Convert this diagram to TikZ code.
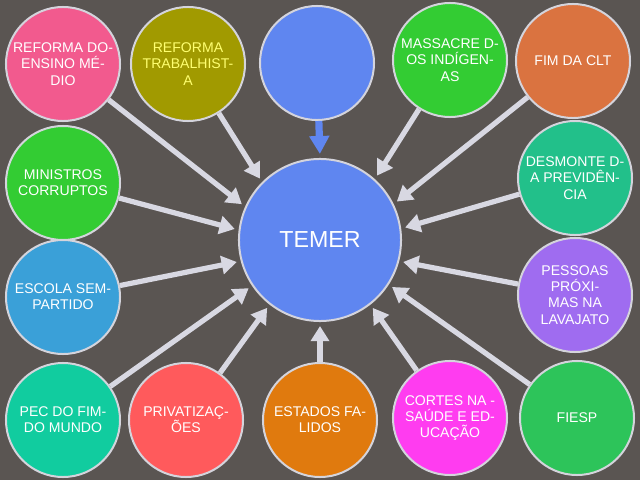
\documentclass[tikz,border=0pt]{standalone}
\usepackage{fontspec}
\setsansfont{Liberation Sans}
\usetikzlibrary{arrows.meta}
\definecolor{fundo}{RGB}{90,85,82}
\definecolor{borda}{RGB}{212,212,220}
\definecolor{setacor}{RGB}{216,216,226}
\definecolor{azul}{RGB}{95,134,240}
\definecolor{rosa}{RGB}{242,90,142}
\definecolor{oliva}{RGB}{161,154,0}
\definecolor{verde}{RGB}{51,204,51}
\definecolor{laranja}{RGB}{218,115,64}
\definecolor{celeste}{RGB}{58,160,216}
\definecolor{esmeralda}{RGB}{34,192,138}
\definecolor{roxo}{RGB}{159,108,240}
\definecolor{turquesa}{RGB}{17,204,159}
\definecolor{vermelho}{RGB}{255,90,92}
\definecolor{abobora}{RGB}{224,122,14}
\definecolor{magenta2}{RGB}{255,60,240}
\definecolor{verdefiesp}{RGB}{45,196,90}
\definecolor{amarelo}{RGB}{255,255,112}

\begin{document}
\begin{tikzpicture}[x=0.025cm,y=-0.025cm,
    bola/.style={circle,draw=borda,line width=0.05cm,minimum size=2.85cm,inner sep=0pt,
      text=white,align=center,font=\sffamily\fontsize{10}{11.5}\selectfont},
    seta/.style={-{Triangle[length=0.38cm,width=0.45cm]},line width=0.13cm,color=setacor,shorten >=0.1cm}]
 		\fill[fundo] (0,0) rectangle (640,480);
 		\node[bola,fill=azul,minimum size=4.05cm,font=\sffamily\fontsize{16.5}{18}\selectfont] (temer) at (320,240){TEMER};
 		\node[bola,fill=rosa] (ensino) at (63,64){REFORMA DO-\\ENSINO MÉ-\\DIO};
 		\node[bola,fill=oliva,text=amarelo] (trab) at (188,64){REFORMA\\TRABALHIST-\\A};
 		\node[bola,fill=azul] (topo) at (317,63){};
 		\node[bola,fill=verde] (massacre) at (450,60){MASSACRE D-\\OS INDÍGEN-\\AS};
 		\node[bola,fill=laranja] (clt) at (573,61){FIM DA CLT};
 		\node[bola,fill=verde] (ministros) at (63,183){MINISTROS\\CORRUPTOS};
 		\node[bola,fill=celeste] (escola) at (63,297){ESCOLA SEM-\\PARTIDO};
 		\node[bola,fill=esmeralda] (desmonte) at (575,178){DESMONTE D-\\A PREVIDÊN-\\CIA};
 		\node[bola,fill=roxo] (pessoas) at (575,295){PESSOAS\\PRÓXI-\\MAS NA\\LAVAJATO};
 		\node[bola,fill=turquesa] (pec) at (63,420){PEC DO FIM-\\DO MUNDO};
 		\node[bola,fill=vermelho] (priv) at (186,420){PRIVATIZAÇ-\\ÕES};
 		\node[bola,fill=abobora] (estados) at (320,420){ESTADOS FA-\\LIDOS};
 		\node[bola,fill=magenta2] (cortes) at (450,418){CORTES NA -\\SAÚDE E ED-\\UCAÇÃO};
 		\node[bola,fill=verdefiesp] (fiesp) at (577,418){FIESP};
 		\draw[seta] (ensino) -- (temer.156);
 		\draw[seta] (trab) -- (temer.135);
 		\draw[seta,color=azul,line width=0.18cm,-{Triangle[length=0.45cm,width=0.48cm]}] (topo) -- (temer.90);
 		\draw[seta] (massacre) -- (temer.48);
 		\draw[seta] (clt) -- (temer.26);
 		\draw[seta] (ministros) -- (temer.173);
 		\draw[seta] (escola) -- (temer.-165);
 		\draw[seta] (desmonte) -- (temer.8);
 		\draw[seta] (pessoas) -- (temer.-15);
 		\draw[seta] (pec) -- (temer.-146);
 		\draw[seta] (priv) -- (temer.-128);
 		\draw[seta] (estados) -- (temer.-90);
 		\draw[seta] (cortes) -- (temer.-52);
 		\draw[seta] (fiesp) -- (temer.-33);
 	\end{tikzpicture}
\end{document}
